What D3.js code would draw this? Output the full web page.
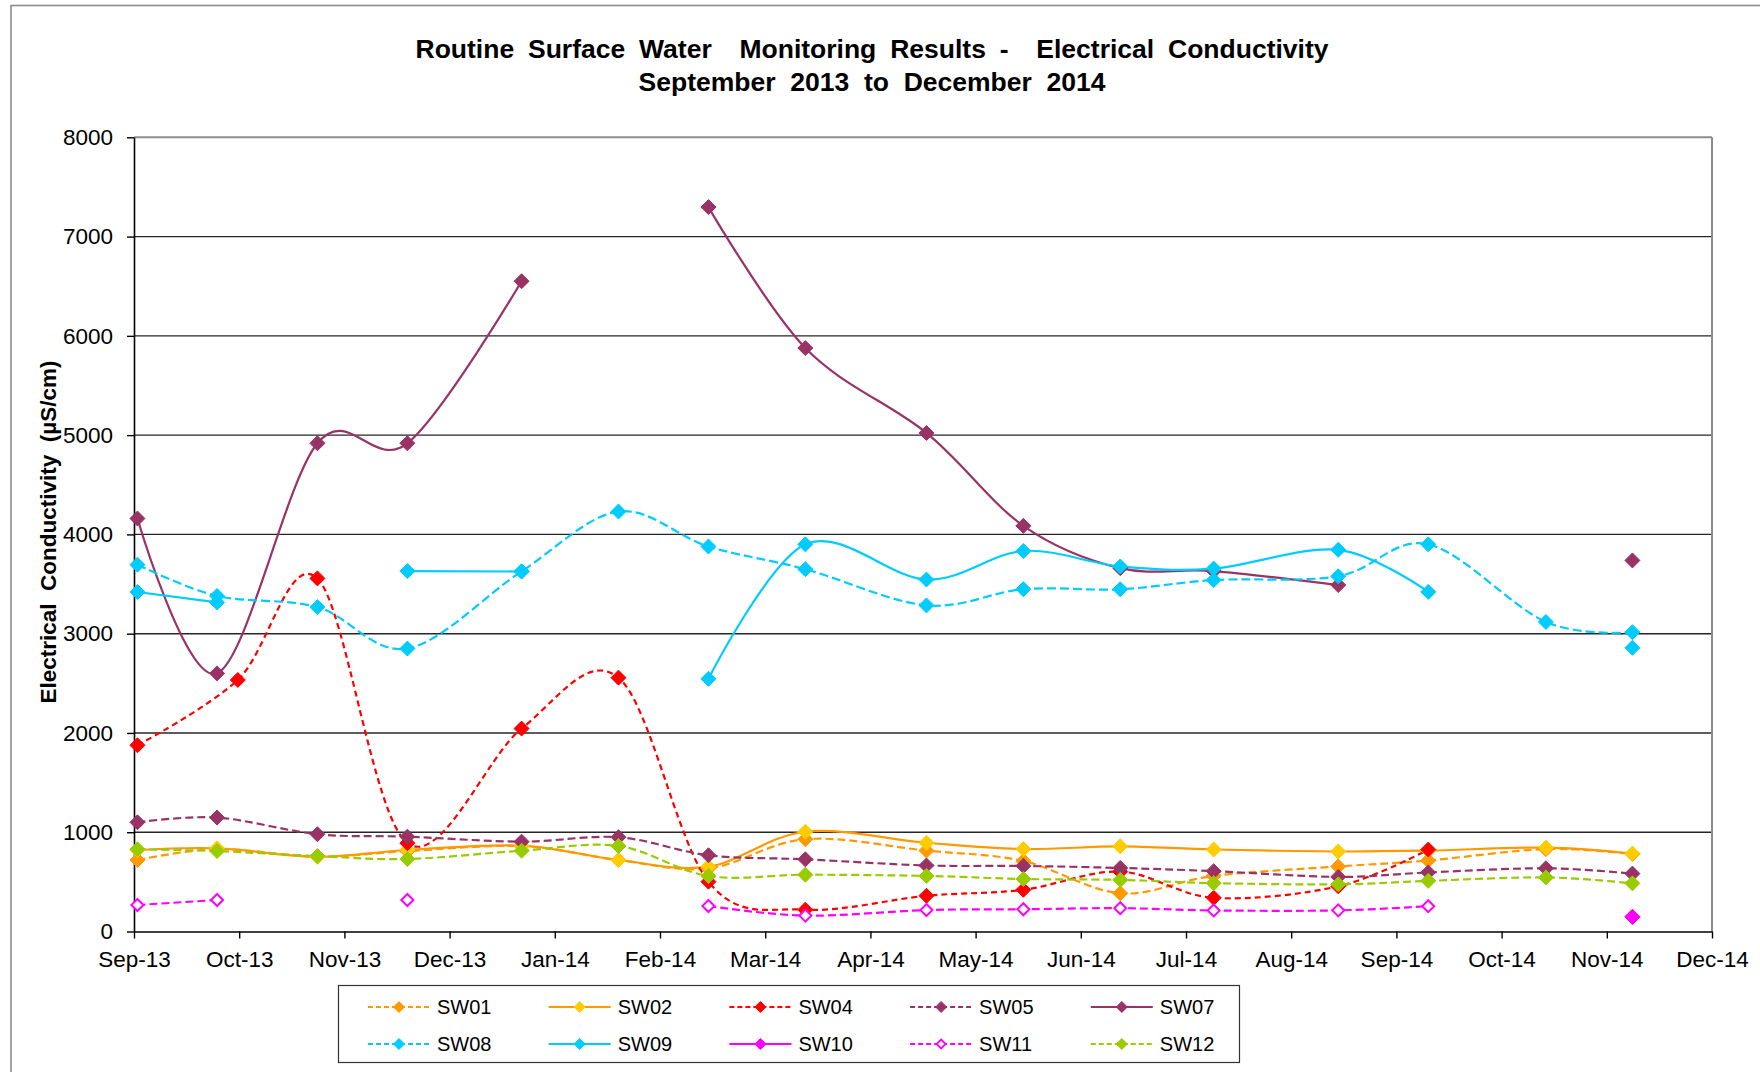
<!DOCTYPE html>
<html>
<head>
<meta charset="utf-8">
<script src="https://cdn.jsdelivr.net/npm/d3@7"></script>
<style>
  html, body { margin: 0; padding: 0; background: #fff; }
  svg { display: block; font-family: "Liberation Sans", Arial, sans-serif; }
</style>
</head>
<body>
<svg id="chart"></svg>
<script>
const W = 1760;
const H = 1072;

// ── Data ──────────────────────────────────────────────────────────────────────

const TICK_LABELS = [
  'Sep-13', 'Oct-13', 'Nov-13', 'Dec-13', 'Jan-14', 'Feb-14', 'Mar-14', 'Apr-14',
  'May-14', 'Jun-14', 'Jul-14', 'Aug-14', 'Sep-14', 'Oct-14', 'Nov-14', 'Dec-14',
];
const Y_TICKS = [0, 1000, 2000, 3000, 4000, 5000, 6000, 7000, 8000];

// sampling dates shared by most sites
const DATES = [
  '2013-09-02', '2013-09-25', '2013-10-24', '2013-11-19', '2013-12-22', '2014-01-19',
  '2014-02-14', '2014-03-14', '2014-04-18', '2014-05-16', '2014-06-13', '2014-07-10',
  '2014-08-15', '2014-09-10', '2014-10-14', '2014-11-08',
];
// SW04 was sampled on 1 Oct instead of 25 Sep
const SW04_DATES = [
  '2013-09-02', '2013-10-01', '2013-10-24', '2013-11-19', '2013-12-22', '2014-01-19',
  '2014-02-14', '2014-03-14', '2014-04-18', '2014-05-16', '2014-06-13', '2014-07-10',
  '2014-08-15', '2014-09-10', '2014-10-14', '2014-11-08',
];

// µS/cm, null = not sampled
const SW01 = [720, 830, 755, 810, 860, 720, 635, 930, 815, 710, 385, 560, 655, 715, 830, 780];
const SW02 = [821, 838, 753, 821, 865, 720, 653, 1005, 894, 830, 858, 826, 806, 815, 845, 785];
const SW04 = [1876, 2534, 3557, 890, 2044, 2557, 502, 220, 360, 420, 603, 340, 455, 825, null, 148];
const SW05 = [1100, 1148, 980, 955, 905, 950, 768, 727, 665, 660, 640, 608, 550, 595, 637, 583];
const SW07 = [4160, 2600, 4918, 4918, 6550, null, 7297, 5877, 5022, 4086, 3660, 3631, 3490, null, null, 3738];
const SW08 = [3695, 3380, 3268, 2850, 3628, 4230, 3878, 3650, 3285, 3448, 3447, 3540, 3578, 3900, 3118, 3015];
const SW09 = [3420, 3315, null, 3631, 3626, null, 2545, 3900, 3545, 3833, 3677, 3656, 3845, 3421, null, 2858];
const SW10 = [null, null, null, null, null, null, null, null, null, null, null, null, null, null, null, 147];
const SW11 = [267, 317, null, 317, null, null, 257, 160, 216, 224, 235, 212, 213, 255, null, null];
const SW12 = [828, 810, 760, 730, 814, 861, 559, 572, 560, 529, 520, 487, 475, 510, 545, 485];

// ── Series styles ─────────────────────────────────────────────────────────────

const SERIES = [
  { name: 'SW01', dates: DATES,      values: SW01, line: '#FF9900', mark: '#FF9900', dash: '8,4' },
  { name: 'SW02', dates: DATES,      values: SW02, line: '#FF9900', mark: '#FFCC00', dash: null  },
  { name: 'SW04', dates: SW04_DATES, values: SW04, line: '#FF0000', mark: '#FF0000', dash: '6,4' },
  { name: 'SW05', dates: DATES,      values: SW05, line: '#993366', mark: '#993366', dash: '8,4' },
  { name: 'SW07', dates: DATES,      values: SW07, line: '#993366', mark: '#993366', dash: null  },
  { name: 'SW08', dates: DATES,      values: SW08, line: '#00CCFF', mark: '#00CCFF', dash: '9,4' },
  { name: 'SW09', dates: DATES,      values: SW09, line: '#00CCFF', mark: '#00CCFF', dash: null  },
  { name: 'SW10', dates: DATES,      values: SW10, line: '#FF00FF', mark: '#FF00FF', dash: null  },
  { name: 'SW11', dates: DATES,      values: SW11, line: '#FF00FF', mark: '#FF00FF', dash: '8,4', open: true },
  { name: 'SW12', dates: DATES,      values: SW12, line: '#99CC00', mark: '#99CC00', dash: '8,4' },
];

// ── Layout ────────────────────────────────────────────────────────────────────

const PLOT = { left: 134, right: 1712, top: 137.3, bottom: 931.5 };
const parse = d3.timeParse('%Y-%m-%d');

const t0 = parse('2013-09-01');
const t1 = parse('2014-12-01');
const x = d3.scaleTime().domain([t0, t1]).range([PLOT.left, PLOT.right]);
const y = d3.scaleLinear().domain([0, 8000]).range([PLOT.bottom, PLOT.top]);

// excel-style major unit: equal steps between first and last tick
const tickDates = TICK_LABELS.map((_, i) => new Date(+t0 + i * (+t1 - +t0) / (TICK_LABELS.length - 1)));

const svg = d3.select('#chart').attr('width', W).attr('height', H);

svg.append('rect').attr('width', W).attr('height', H).attr('fill', '#fff');

// outer chart frame
svg.append('rect')
  .attr('x', 11).attr('y', 5.5)
  .attr('width', W).attr('height', H + 20)
  .attr('fill', 'none').attr('stroke', '#8c8c8c').attr('stroke-width', 1.6);

// ── Title ─────────────────────────────────────────────────────────────────────

const title = svg.append('text')
  .attr('x', 872).attr('text-anchor', 'middle')
  .attr('font-weight', 'bold').attr('font-size', 26.5)
  .style('white-space', 'pre');
title.append('tspan').attr('x', 872).attr('y', 58)
  .attr('word-spacing', 6.5)
  .text('Routine Surface Water  Monitoring Results -  Electrical Conductivity');
title.append('tspan').attr('x', 872).attr('y', 91)
  .text('September  2013  to  December  2014');

// ── Grid & axes ───────────────────────────────────────────────────────────────

svg.append('g')
  .selectAll('line')
  .data(Y_TICKS.filter(v => v > 0))
  .join('line')
  .attr('x1', PLOT.left).attr('x2', PLOT.right)
  .attr('y1', d => y(d)).attr('y2', d => y(d))
  .attr('stroke', d => d === 8000 ? '#8c8c8c' : '#262626')
  .attr('stroke-width', d => d === 8000 ? 2 : 1.4);

svg.append('line')
  .attr('x1', PLOT.right).attr('x2', PLOT.right)
  .attr('y1', PLOT.top).attr('y2', PLOT.bottom)
  .attr('stroke', '#8c8c8c').attr('stroke-width', 2);

const yAxis = svg.append('g')
  .attr('transform', `translate(${PLOT.left},0)`)
  .call(d3.axisLeft(y).tickValues(Y_TICKS).tickFormat(d3.format('d')).tickSize(7).tickPadding(14).tickSizeOuter(0));

const xAxis = svg.append('g')
  .attr('transform', `translate(0,${PLOT.bottom})`)
  .call(d3.axisBottom(x).tickValues(tickDates).tickFormat((d, i) => TICK_LABELS[i]).tickSize(7).tickPadding(13).tickSizeOuter(0));

[yAxis, xAxis].forEach(a => {
  a.select('.domain').attr('stroke', '#000').attr('stroke-width', 1.6);
  a.selectAll('.tick line').attr('stroke', '#000').attr('stroke-width', 1.4);
  a.selectAll('.tick text')
    .attr('fill', '#000').attr('font-size', 22.5)
    .attr('font-family', '"Liberation Sans", Arial, sans-serif');
});

svg.append('text')
  .attr('transform', 'translate(56,532) rotate(-90)')
  .attr('text-anchor', 'middle')
  .attr('font-weight', 'bold').attr('font-size', 22.5)
  .style('white-space', 'pre')
  .text('Electrical  Conductivity  (µS/cm)');

// ── Series ────────────────────────────────────────────────────────────────────

const diamond = r => `M0,${-r}L${r},0L0,${r}L${-r},0Z`;

const line = d3.line()
  .defined(d => d.v != null)
  .x(d => x(d.t))
  .y(d => y(d.v))
  .curve(d3.curveCardinal.tension(0));

const pts = s => s.dates.map((d, i) => ({ t: parse(d), v: s.values[i] }));

const gLines = svg.append('g');
const gMarks = svg.append('g');

SERIES.forEach(s => {
  const data = pts(s);

  gLines.append('path')
    .datum(data)
    .attr('d', line)
    .attr('fill', 'none')
    .attr('stroke', s.line)
    .attr('stroke-width', 2.2)
    .attr('stroke-dasharray', s.dash);

  gMarks.append('g')
    .selectAll('path')
    .data(data.filter(d => d.v != null))
    .join('path')
    .attr('transform', d => `translate(${x(d.t)},${y(d.v)})`)
    .attr('d', s.open ? diamond(6) : diamond(7.5))
    .attr('fill', s.open ? '#fff' : s.mark)
    .attr('stroke', s.mark)
    .attr('stroke-width', s.open ? 2 : 1);
});

// ── Legend ────────────────────────────────────────────────────────────────────

const legend = svg.append('g');
legend.append('rect')
  .attr('x', 338.5).attr('y', 985.5)
  .attr('width', 901).attr('height', 77)
  .attr('fill', '#fff').attr('stroke', '#333').attr('stroke-width', 1.2);

const item = legend.selectAll('g.item')
  .data(SERIES)
  .join('g')
  .attr('class', 'item')
  .attr('transform', (d, i) => `translate(${368 + (i % 5) * 180.7},${i < 5 ? 1007 : 1044})`);

item.append('line')
  .attr('x1', 0).attr('x2', 62)
  .attr('stroke', d => d.line).attr('stroke-width', 2.2)
  .attr('stroke-dasharray', d => d.dash ? '5,3' : null);

item.append('path')
  .attr('transform', 'translate(31,0)')
  .attr('d', d => d.open ? diamond(4.5) : diamond(5.5))
  .attr('fill', d => d.open ? '#fff' : d.mark)
  .attr('stroke', d => d.mark)
  .attr('stroke-width', d => d.open ? 1.8 : 1);

item.append('text')
  .attr('x', 69).attr('dy', '0.35em')
  .attr('font-size', 20)
  .text(d => d.name);
</script>
</body>
</html>
